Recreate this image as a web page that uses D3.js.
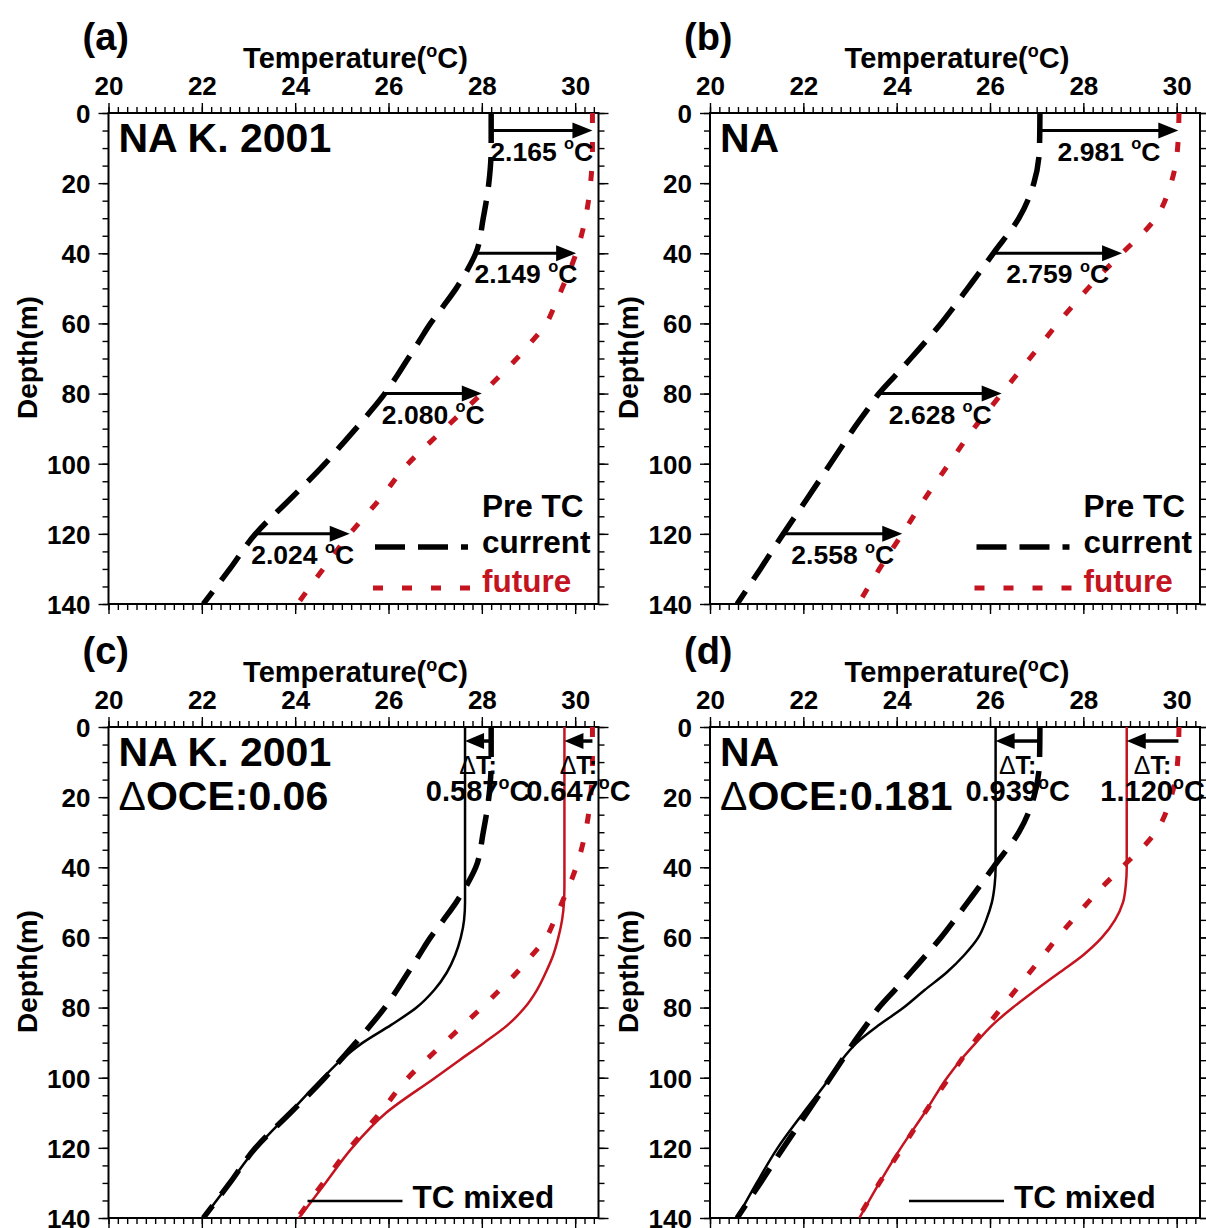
<!DOCTYPE html>
<html><head><meta charset="utf-8">
<script src="https://cdn.jsdelivr.net/npm/d3@7"></script>
<style>body{margin:0;background:#fff} svg{display:block}</style>
</head><body><svg id="chart" width="1206" height="1228"></svg>
<script>
// ---------------- data ----------------
const depth = [0,10,20,30,40,45,50,55,60,65,70,75,80,85,90,95,100,110,120,130,140];
// NA K. 2001
const curK    = [28.2,28.2,28.15,28.03,27.87,27.68,27.45,27.18,26.9,26.66,26.42,26.18,25.92,25.62,25.3,24.97,24.64,23.9,23.15,22.6,22.03];
const futK    = [30.37,30.37,30.33,30.22,30.02,29.88,29.72,29.56,29.38,29.08,28.75,28.38,28.0,27.6,27.2,26.8,26.42,25.82,25.17,24.6,24.05];
const mixCurK = [27.64,27.64,27.64,27.64,27.64,27.64,27.64,27.62,27.55,27.43,27.25,26.98,26.6,26.05,25.45,24.98,24.6,23.88,23.17,22.6,22.03];
const mixFutK = [29.77,29.77,29.77,29.77,29.77,29.77,29.76,29.72,29.64,29.53,29.37,29.18,28.92,28.55,28.05,27.52,27.0,25.95,25.22,24.65,24.08];
// NA
const curNA    = [27.07,27.06,26.94,26.62,26.07,25.8,25.52,25.24,24.95,24.63,24.3,23.96,23.62,23.35,23.08,22.83,22.58,22.08,21.57,21.08,20.58];
const futNA    = [30.05,30.02,29.88,29.55,28.83,28.45,28.1,27.77,27.45,27.15,26.85,26.55,26.25,25.95,25.65,25.38,25.12,24.6,24.12,23.63,23.18];
const mixCurNA = [26.12,26.12,26.12,26.12,26.12,26.1,26.04,25.92,25.75,25.45,25.07,24.6,24.15,23.62,23.15,22.82,22.57,22.0,21.45,21.0,20.58];
const mixFutNA = [28.93,28.93,28.93,28.93,28.93,28.91,28.85,28.68,28.4,28.0,27.49,26.98,26.49,26.05,25.7,25.37,25.08,24.6,24.09,23.63,23.2];

const warmDepths = [5,40,80,120];
const warmLabelsK  = ["2.165","2.149","2.080","2.024"];
const warmLabelsNA = ["2.981","2.759","2.628","2.558"];
const coolDepth = 4;
const coolLabelsK  = ["0.587","0.647"];
const coolLabelsNA = ["0.939","1.120"];
const oceK = "0.06", oceNA = "0.181";

const xTicks = [20,22,24,26,28,30];
const yTicks = [0,20,40,60,80,100,120,140];

// ---------------- layout ----------------
const RED = "#c4141f";
const FONT = "'Liberation Sans', Arial, Helvetica, sans-serif";
const PW = 490, PH = 491;
const svg = d3.select("#chart").attr("font-family", FONT);

const panels = [
  {tag:"(a)", left:108.5, top:113,   cur:curK,  fut:futK,  name:"NA K. 2001", mode:"warm", labels:warmLabelsK},
  {tag:"(b)", left:710,   top:113,   cur:curNA, fut:futNA, name:"NA",         mode:"warm", labels:warmLabelsNA},
  {tag:"(c)", left:108.5, top:727,   cur:curK,  fut:futK,  mixC:mixCurK,  mixF:mixFutK,  name:"NA K. 2001", oce:oceK,  mode:"cool", labels:coolLabelsK},
  {tag:"(d)", left:710,   top:727,   cur:curNA, fut:futNA, mixC:mixCurNA, mixF:mixFutNA, name:"NA",         oce:oceNA, mode:"cool", labels:coolLabelsNA}
];

function degText(sel, num, space, size) {
  sel.text(null);
  sel.append("tspan").text(num + (space ? " " : ""));
  sel.append("tspan").text("o").attr("font-size", size*0.62).attr("dy", -size*0.42);
  sel.append("tspan").text("C").attr("font-size", size).attr("dy", size*0.42);
}

function arrow(g, x0, x1, y, len, hw, w) {
  const dir = x1 > x0 ? 1 : -1;
  g.append("line").attr("x1", x0).attr("x2", x1 - dir*len*0.9).attr("y1", y).attr("y2", y)
    .attr("stroke", "#000").attr("stroke-width", w);
  g.append("path").attr("d", `M${x1},${y} L${x1 - dir*len},${y-hw} L${x1 - dir*len},${y+hw} Z`).attr("fill", "#000");
}

panels.forEach((p, i) => {
  const x = d3.scaleLinear().domain([20, 30.5]).range([0, PW]);
  const y = d3.scaleLinear().domain([0, 140]).range([0, PH]);
  const g = svg.append("g").attr("transform", `translate(${p.left},${p.top})`);

  const cid = "clip" + i;
  g.append("clipPath").attr("id", cid).append("rect").attr("width", PW).attr("height", PH);

  const minorX = d3.range(20, 30.5001, 0.2).map(v => +v.toFixed(2));
  const minorY = d3.range(0, 140.001, 5);
  const axisStyle = a => {
    a.select(".domain").remove();
    a.selectAll("line").attr("stroke", "#000").attr("stroke-width", 1.4);
  };
  g.append("g").call(d3.axisTop(x).tickValues(minorX).tickSize(6).tickFormat("")).call(axisStyle);
  g.append("g").attr("transform", `translate(0,${PH})`).call(d3.axisBottom(x).tickValues(minorX).tickSize(6).tickFormat("")).call(axisStyle);
  g.append("g").call(d3.axisLeft(y).tickValues(minorY).tickSize(6).tickFormat("")).call(axisStyle);
  g.append("g").attr("transform", `translate(${PW},0)`).call(d3.axisRight(y).tickValues(minorY).tickSize(6).tickFormat("")).call(axisStyle);

  const top = g.append("g").call(d3.axisTop(x).tickValues(xTicks).tickSize(10).tickPadding(8).tickFormat(d3.format("d"))).call(axisStyle);
  top.selectAll("text").attr("font-size", 26).attr("font-weight", "bold").attr("font-family", FONT).attr("fill", "#000").attr("dy", "0");
  g.append("g").attr("transform", `translate(0,${PH})`).call(d3.axisBottom(x).tickValues(xTicks).tickSize(10).tickFormat("")).call(axisStyle);
  const left = g.append("g").call(d3.axisLeft(y).tickValues(yTicks).tickSize(10).tickPadding(8).tickFormat(d3.format("d"))).call(axisStyle);
  left.selectAll("text").attr("font-size", 26).attr("font-weight", "bold").attr("font-family", FONT).attr("fill", "#000").attr("dy", "0.36em");
  g.append("g").attr("transform", `translate(${PW},0)`).call(d3.axisRight(y).tickValues(yTicks).tickSize(10).tickFormat("")).call(axisStyle);

  g.append("rect").attr("width", PW).attr("height", PH).attr("fill", "none").attr("stroke", "#000").attr("stroke-width", 2);

  const tt = g.append("text").attr("x", PW/2 + 2).attr("y", -45).attr("text-anchor", "middle")
    .attr("font-size", 29).attr("font-weight", "bold");
  tt.append("tspan").text("Temperature(");
  tt.append("tspan").text("o").attr("font-size", 18).attr("dy", -11);
  tt.append("tspan").text("C)").attr("font-size", 29).attr("dy", 11);

  g.append("text").attr("transform", `translate(-82,${PH/2 - 1}) rotate(-90)`).attr("text-anchor", "middle")
    .attr("dy", "0.36em").attr("font-size", 28).attr("font-weight", "bold").text("Depth(m)");

  g.append("text").attr("x", -26).attr("y", -63).attr("font-size", 38).attr("font-weight", "bold").text(p.tag);

  g.append("text").attr("x", 10).attr("y", 39).attr("font-size", 41).attr("font-weight", "bold").text(p.name);
  if (p.oce) {
    const t = g.append("text").attr("x", 10).attr("y", 83).attr("font-size", 41).attr("font-weight", "bold");
    t.append("tspan").text("Δ").attr("font-weight", "normal");
    t.append("tspan").text("OCE:" + p.oce);
  }

  const pts = arr => depth.map((d, k) => [arr[k], d]);
  const line = d3.line().x(d => x(d[0])).y(d => y(d[1])).curve(d3.curveMonotoneY);
  const plot = g.append("g").attr("clip-path", `url(#${cid})`);
  plot.append("path").attr("d", line(pts(p.cur))).attr("fill", "none").attr("stroke", "#000")
    .attr("stroke-width", 5.5).attr("stroke-dasharray", "30,14");
  plot.append("path").attr("d", line(pts(p.fut))).attr("fill", "none").attr("stroke", RED)
    .attr("stroke-width", 5).attr("stroke-dasharray", "10,19");
  if (p.mixC) {
    plot.append("path").attr("d", line(pts(p.mixC))).attr("fill", "none").attr("stroke", "#000").attr("stroke-width", 2.5);
    plot.append("path").attr("d", line(pts(p.mixF))).attr("fill", "none").attr("stroke", RED).attr("stroke-width", 2.5);
  }

  const interp = arr => d3.scaleLinear().domain(depth).range(arr);
  const fc = interp(p.cur), ff = interp(p.fut);

  if (p.mode === "warm") {
    warmDepths.forEach((d, k) => {
      const x0 = x(fc(d)), x1 = x(ff(d)), yy = y(d);
      arrow(g, x0, x1, yy, 20, 8, 3);
      const t = g.append("text").attr("x", (x0 + x1)/2).attr("y", yy + 30).attr("text-anchor", "middle")
        .attr("font-size", 26.5).attr("font-weight", "bold");
      degText(t, p.labels[k], true, 26.5);
    });
    const lg = g.append("g");
    lg.append("text").attr("x", 373.5).attr("y", 404).attr("font-size", 31.5).attr("font-weight", "bold").text("Pre TC");
    lg.append("line").attr("x1", 266.5).attr("x2", 359.5).attr("y1", 434).attr("y2", 434)
      .attr("stroke", "#000").attr("stroke-width", 5.5).attr("stroke-dasharray", "30,13");
    lg.append("text").attr("x", 373.5).attr("y", 440).attr("font-size", 31.5).attr("font-weight", "bold").text("current");
    lg.append("line").attr("x1", 264.5).attr("x2", 361.5).attr("y1", 475).attr("y2", 475)
      .attr("stroke", RED).attr("stroke-width", 5).attr("stroke-dasharray", "10,19");
    lg.append("text").attr("x", 373.5).attr("y", 479).attr("font-size", 31.5).attr("font-weight", "bold").attr("fill", RED).text("future");
  } else {
    const fmc = interp(p.mixC), fmf = interp(p.mixF);
    const yy = y(coolDepth);
    [[fc, fmc], [ff, fmf]].forEach(([a, b], k) => {
      const x0 = x(a(coolDepth)), x1 = x(b(coolDepth));
      arrow(g, x0, x1, yy, 19, 8, 3.5);
      const cx = (x0 + x1)/2;
      const dt = g.append("text").attr("x", cx).attr("y", yy + 33).attr("text-anchor", "middle")
        .attr("font-size", 25).attr("font-weight", "bold");
      dt.append("tspan").text("Δ").attr("font-weight", "normal");
      dt.append("tspan").text("T:");
      const t = g.append("text").attr("x", cx).attr("y", yy + 60).attr("text-anchor", "middle")
        .attr("font-size", 29).attr("font-weight", "bold");
      degText(t, p.labels[k], false, 29);
    });
    const lg = g.append("g");
    lg.append("line").attr("x1", 199).attr("x2", 294).attr("y1", PH - 17).attr("y2", PH - 17)
      .attr("stroke", "#000").attr("stroke-width", 2.5);
    lg.append("text").attr("x", 304).attr("y", PH - 10).attr("font-size", 31.5).attr("font-weight", "bold").text("TC mixed");
  }
});
</script></body></html>
